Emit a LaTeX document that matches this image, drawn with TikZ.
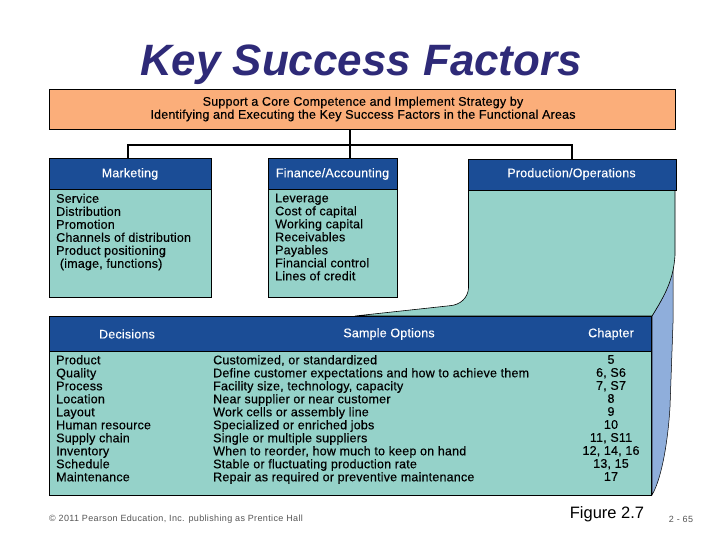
\documentclass[tikz,border=0pt]{standalone}
\usepackage{fontspec}
\setmainfont{Liberation Sans}
\newfontfamily\bodyfnt[LetterSpace=1.6,FakeBold=0.35]{Liberation Sans}
\newfontfamily\smallfnt[LetterSpace=4]{Liberation Sans}
\definecolor{orangebox}{HTML}{FBAE7A}
\definecolor{headblue}{HTML}{1B4D96}
\definecolor{tealbox}{HTML}{95D2C9}
\definecolor{sideblue}{HTML}{8FAEDB}
\definecolor{titleblue}{HTML}{2E2A78}
\definecolor{greytext}{HTML}{555555}
\tikzset{
 x=1pt,y=-1pt,
 box/.style={draw=black,line width=1.4pt,fill=tealbox},
 headbox/.style={draw=black,line width=1.4pt,fill=headblue},
 link/.style={draw=black,line width=1.3pt},
 headtext/.style={text=white,font=\fontsize{12.5}{13}\selectfont\bodyfnt,inner sep=0pt,anchor=center},
 bodytext/.style={text=black,font=\fontsize{12.5}{13}\selectfont\bodyfnt,inner sep=0pt,anchor=north west,align=left},
 centertext/.style={text=black,font=\fontsize{12.5}{13}\selectfont\bodyfnt,inner sep=0pt,anchor=north,align=center},
}
\begin{document}
\begin{tikzpicture}
\useasboundingbox (0,0) rectangle (720,540);
\fill[white] (0,0) rectangle (720,540);
% side and back panels
\fill[sideblue,draw=black,line width=0.5pt] (652,316) .. controls (665,295) and (672,280) .. (673,262) -- (673,323) -- (670,407) .. controls (668,440) and (662,478) .. (652,495) -- cycle;
\filldraw[fill=tealbox,draw=black,line width=0.6pt] (468.5,190) -- (468.5,288) .. controls (468,298) and (460,305) .. (450,305.7) -- (355,316) -- (652,316) .. controls (665,295) and (673.5,280) .. (675,255) -- (675,190);
% top box
\node[draw=black,line width=1.4pt,fill=orangebox,minimum width=626pt,minimum height=40pt,inner sep=0pt,anchor=north west] (core) at (49,89) {};
\node[text=black,font=\fontsize{12.5}{13}\selectfont\bodyfnt,inner sep=0pt,align=center] (coretext) at (363,109) {Support a Core Competence and Implement Strategy by\\Identifying and Executing the Key Success Factors in the Functional Areas};
% title
\node[text=titleblue,font=\bfseries\itshape\fontsize{43.9}{46}\selectfont,inner sep=0pt] (title) at (361,65) {Key Success Factors};
% column boxes
\node[box,minimum width=162pt,minimum height=108pt,inner sep=0pt,anchor=north west] (mbody) at (49,189) {};
\node[headbox,minimum width=162pt,minimum height=31pt,inner sep=0pt,anchor=north west] (mhead) at (49,158) {};
\node[box,minimum width=129pt,minimum height=108pt,inner sep=0pt,anchor=north west] (fbody) at (268,189) {};
\node[headbox,minimum width=129pt,minimum height=31pt,inner sep=0pt,anchor=north west] (fhead) at (268,158) {};
\node[headbox,minimum width=208pt,minimum height=31pt,inner sep=0pt,anchor=north west] (phead) at (468,159) {};
% connectors
\coordinate (bus) at (350,145);
\coordinate (mdrop) at (128,158);
\coordinate (pdrop) at (572,159);
\draw[link] (core.south -| bus) -- (fhead.north -| bus);
\draw[link] (mdrop) -- (mdrop |- bus) -- (pdrop |- bus) -- (pdrop);
% header labels
\node[headtext] (mlabel) at (130,174) {Marketing};
\node[headtext] (flabel) at (332.5,174) {Finance/Accounting};
\node[headtext] (plabel) at (571.5,174) {Production/Operations};
% column bodies
\node[bodytext] (mlist) at (56,193.5) {Service\\Distribution\\Promotion\\Channels of distribution\\Product positioning\\\ (image, functions)};
\node[bodytext] (flist) at (275,193.5) {Leverage\\Cost of capital\\Working capital\\Receivables\\Payables\\Financial control\\Lines of credit};
% bottom table
\node[box,minimum width=602pt,minimum height=144pt,inner sep=0pt,anchor=north west] (tbody) at (49,351) {};
\node[headbox,minimum width=602pt,minimum height=35pt,inner sep=0pt,anchor=north west] (thead) at (49,316) {};
\node[headtext] (dlabel) at (127,334) {Decisions};
\node[headtext] (slabel) at (389,334) {Sample Options};
\node[headtext] (clabel) at (611,334) {Chapter};
\node[bodytext] (dlist) at (56,355) {Product\\Quality\\Process\\Location\\Layout\\Human resource\\Supply chain\\Inventory\\Schedule\\Maintenance};
\node[bodytext] (slist) at (213,355) {Customized, or standardized\\Define customer expectations and how to achieve them\\Facility size, technology, capacity\\Near supplier or near customer\\Work cells or assembly line\\Specialized or enriched jobs\\Single or multiple suppliers\\When to reorder, how much to keep on hand\\Stable or fluctuating production rate\\Repair as required or preventive maintenance};
\node[centertext] (clist) at (611,355) {5\\6, S6\\7, S7\\8\\9\\10\\11, S11\\12, 14, 16\\13, 15\\17};
% footer
\node[text=greytext,font=\fontsize{9}{10}\selectfont\smallfnt,inner sep=0pt,anchor=west] (copy) at (49,519) {© 2011 Pearson Education, Inc. publishing as Prentice Hall};
\node[text=black,font=\fontsize{16.5}{18}\selectfont,inner sep=0pt] (fig) at (607,514.5) {Figure 2.7};
\node[text=greytext,font=\fontsize{9}{10}\selectfont\smallfnt,inner sep=0pt] (page) at (681,519.5) {2 - 65};
\end{tikzpicture}
\end{document}
